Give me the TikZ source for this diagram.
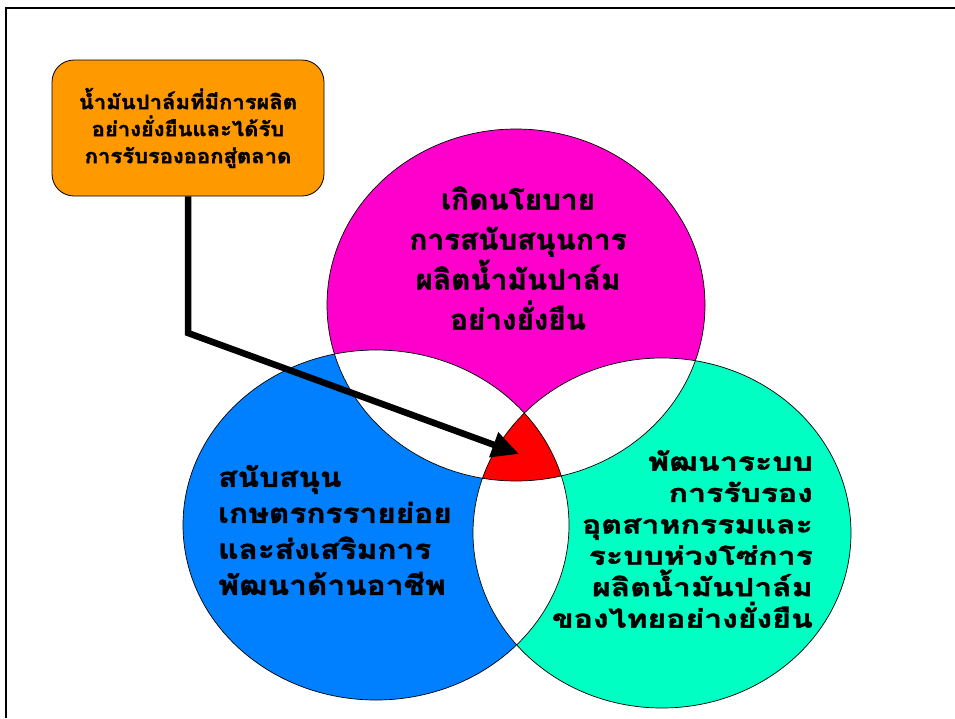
\documentclass[tikz,border=0pt]{standalone}
\usepackage{fontspec}
\newfontfamily\thaifont[Script=Thai]{Loma}
\usepackage{tikz}
\usetikzlibrary{arrows.meta,positioning}
\definecolor{policypink}{RGB}{255,0,204}
\definecolor{farmerblue}{RGB}{0,128,255}
\definecolor{chaingreen}{RGB}{0,255,194}
\definecolor{corered}{RGB}{255,0,0}
\definecolor{goalorange}{RGB}{255,153,0}
\newcommand{\ringP}{(516,305) ellipse [x radius=189, y radius=176]}
\newcommand{\ringF}{(376,525) ellipse [x radius=193, y radius=175]}
\newcommand{\ringC}{(662,533) ellipse [x radius=189, y radius=175]}
% heavy, widened Thai text: #1 size, #2 leading, #3 stretch
\newcommand{\thaiheavy}[3]{\thaifont\bfseries\fontsize{#1}{#2}\selectfont\addfontfeature{FakeBold=1.8,FakeStretch=#3}}

\begin{document}
\begin{tikzpicture}[x=1pt,y=-1pt,
    ring/.style={draw=black, line width=0.7pt},
    ringtext/.style={inner sep=0pt, text=black},
    goalbox/.style={draw=black, line width=0.8pt, fill=goalorange, rounded corners=22pt,
      minimum width=272pt, minimum height=136pt, align=center,
      font=\thaiheavy{20}{27}{1.1}},
    conn/.style={line width=6.5pt, -{Triangle[length=27pt,width=25pt]}}]
\useasboundingbox (0,0) rectangle (955,718);
\draw[line width=2.5pt] (955,8) -- (6,8) -- (6,718);

% the three rings and their overlaps
\fill[policypink] \ringP;
\fill[farmerblue] \ringF;
\fill[chaingreen] \ringC;
\begin{scope}
  \clip \ringP;
  \fill[white] \ringF;
  \fill[white] \ringC;
\end{scope}
\begin{scope}
  \clip \ringF;
  \fill[white] \ringC;
\end{scope}
\begin{scope}
  \clip \ringP;
  \clip \ringF;
  \fill[corered] \ringC;
\end{scope}
\draw[ring] \ringP;
\draw[ring] \ringF;
\draw[ring] \ringC;

% texts
\node[ringtext, align=center, font=\thaiheavy{28}{40}{1.06}] (policytext) at (518,258)
  {เกิดนโยบาย\\การสนับสนุนการ\\ผลิตน้ำมันปาล์ม\\อย่างยั่งยืน};
\node[ringtext, align=left, anchor=west, font=\thaiheavy{27}{36}{1.17}] (farmertext) at (218,530)
  {สนับสนุน\\เกษตรกรรายย่อย\\และส่งเสริมการ\\พัฒนาด้านอาชีพ};
\node[ringtext, align=right, anchor=east, font=\thaiheavy{25}{31.4}{1.28}] (chaintext) at (813,539)
  {พัฒนาระบบ\\การรับรอง\\อุตสาหกรรมและ\\ระบบห่วงโซ่การ\\ผลิตน้ำมันปาล์ม\\ของไทยอย่างยั่งยืน};

\node[goalbox] (goal) at (188,128)
  {น้ำมันปาล์มที่มีการผลิต\\อย่างยั่งยืนและได้รับ\\การรับรองออกสู่ตลาด};

% connector
\coordinate (bend) at (188,333);
\coordinate (hit) at (519,454);
\draw[conn] (goal.south) -- (bend) -- (hit);
\end{tikzpicture}
\end{document}
